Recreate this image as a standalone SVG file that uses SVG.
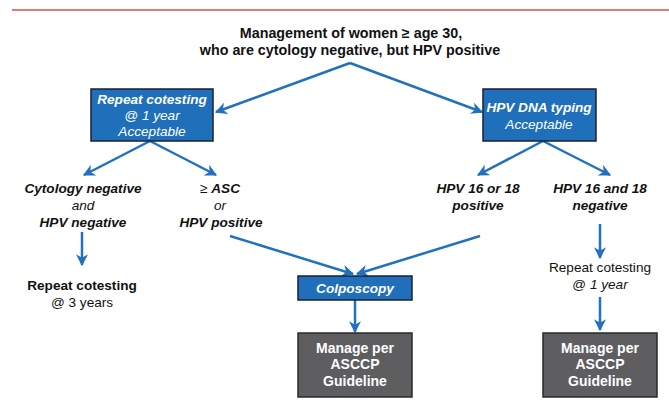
<svg xmlns="http://www.w3.org/2000/svg" width="669" height="400" viewBox="0 0 669 400">
<defs>
<style>
text{font-family:"Liberation Sans",Arial,sans-serif;font-size:13.6px;text-anchor:middle;fill:#111}
.t{font-size:14.3px;font-weight:bold}
.b{font-weight:bold}
.i{font-style:italic}
.bi{font-weight:bold;font-style:italic}
.w{fill:#fff}
.g{font-size:14px}
.blue{fill:#1f6fba;stroke:#1b2130;stroke-width:1.5}
.gray{fill:#5e5e60;stroke:#2a2a2a;stroke-width:1.5}
.c{stroke:#2171be;stroke-width:2.5;fill:none;marker-end:url(#ah)}
</style>
<marker id="ah" viewBox="0 0 10 10" refX="9" refY="5" markerWidth="4.8" markerHeight="4.8" orient="auto" markerUnits="strokeWidth">
<path d="M0,0 L10,5 L0,10 L3,5 Z" fill="#2171be"/>
</marker>
</defs>
<line x1="12" y1="10" x2="669" y2="10" stroke="#e0474c" stroke-width="1.5"/>
<g id="title">
<text class="t" x="351" y="38">Management of women ≥ age 30,</text>
<text class="t" x="350" y="55">who are cytology negative, but HPV positive</text>
</g>
<g id="connectors">
<polyline class="c" points="350,63 216,112"/>
<polyline class="c" points="350,63 482,112"/>
<polyline class="c" points="150,141 84,175"/>
<polyline class="c" points="150,141 216,175"/>
<polyline class="c" points="543,141 478,175"/>
<polyline class="c" points="543,141 610,175"/>
<polyline class="c" points="82,232 82,265"/>
<polyline class="c" points="230,236 353,274"/>
<polyline class="c" points="480,236 357,274"/>
<polyline class="c" points="355,300 355,332"/>
<polyline class="c" points="600,224 600,258"/>
<polyline class="c" points="600,297 600,330"/>
</g>
<g id="repeat1yr">
<rect class="blue" x="91" y="89" width="122" height="52"/>
<text class="bi w" x="152" y="104">Repeat cotesting</text>
<text class="i w" x="152" y="120">@ 1 year</text>
<text class="i w" x="152" y="136">Acceptable</text>
</g>
<g id="typing">
<rect class="blue" x="483" y="89" width="113" height="52"/>
<text class="bi w" x="539" y="112">HPV DNA typing</text>
<text class="i w" x="539" y="129">Acceptable</text>
</g>
<g id="cytneg">
<text class="bi" x="83" y="193">Cytology negative</text>
<text class="i" x="83" y="210">and</text>
<text class="bi" x="83" y="227">HPV negative</text>
</g>
<g id="asc">
<text x="220" y="193"><tspan>≥ </tspan><tspan class="bi">ASC</tspan></text>
<text class="i" x="220" y="210">or</text>
<text class="bi" x="221" y="227">HPV positive</text>
</g>
<g id="pos1618">
<text class="bi" x="478" y="193">HPV 16 or 18</text>
<text class="bi" x="478" y="210">positive</text>
</g>
<g id="neg1618">
<text class="bi" x="600" y="193">HPV 16 and 18</text>
<text class="bi" x="600" y="210">negative</text>
</g>
<g id="repeat3yr">
<text class="b" x="82" y="290">Repeat cotesting</text>
<text x="82" y="307">@ 3 years</text>
</g>
<g id="repeat1yr2">
<text x="600" y="272">Repeat cotesting</text>
<text x="600" y="289"><tspan>@ </tspan><tspan class="i">1 year</tspan></text>
</g>
<g id="colpo">
<rect class="blue" x="298" y="276" width="114" height="24"/>
<text class="bi w" x="355" y="293">Colposcopy</text>
</g>
<g id="manage1">
<rect class="gray" x="298" y="333" width="114" height="64"/>
<text class="b w g" x="355" y="353">Manage per</text>
<text class="b w g" x="355" y="369">ASCCP</text>
<text class="b w g" x="355" y="386">Guideline</text>
</g>
<g id="manage2">
<rect class="gray" x="543" y="333" width="114" height="64"/>
<text class="b w g" x="600" y="353">Manage per</text>
<text class="b w g" x="600" y="369">ASCCP</text>
<text class="b w g" x="600" y="386">Guideline</text>
</g>
</svg>
